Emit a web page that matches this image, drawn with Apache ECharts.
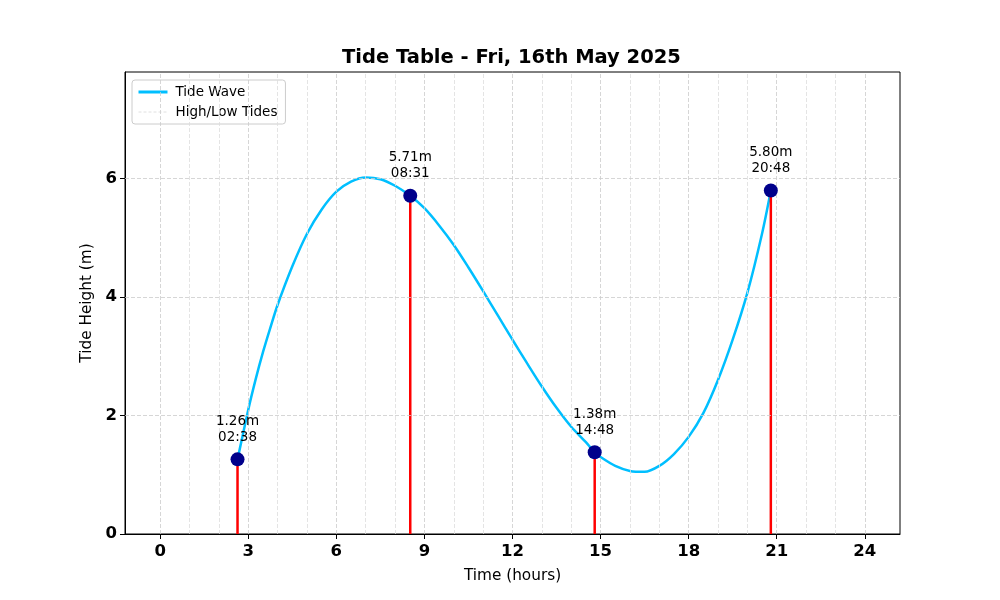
<!DOCTYPE html>
<html>
<head>
<meta charset="utf-8">
<script src="https://cdn.jsdelivr.net/npm/echarts@6/dist/echarts.min.js"></script>
<style>
html,body{margin:0;padding:0;background:#fff;}
#chart{width:1000px;height:600px;}
</style>
</head>
<body>
<div id="chart"></div>
<script>
// Tide curve samples (hours, metres)
var waveHours   = [2.633, 3, 3.25, 3.5, 3.75, 4, 4.5, 5, 5.5, 6, 6.5, 7, 7.5, 8, 8.517, 9, 9.5, 10, 10.5, 11, 11.5, 12, 12.5, 13, 13.5, 14, 14.5, 14.8, 15, 15.5, 16, 16.5, 17, 17.5, 18, 18.5, 19, 19.5, 20, 20.5, 20.8];
var waveHeights = [1.26, 2.10, 2.61, 3.07, 3.48, 3.87, 4.52, 5.07, 5.48, 5.78, 5.95, 6.02, 5.99, 5.88, 5.71, 5.50, 5.21, 4.88, 4.50, 4.10, 3.69, 3.28, 2.88, 2.49, 2.13, 1.81, 1.55, 1.38, 1.30, 1.15, 1.065, 1.05, 1.15, 1.35, 1.64, 2.04, 2.60, 3.28, 4.07, 5.07, 5.80];

// High / low tides
var tideHours   = [2.633, 8.517, 14.8, 20.8];
var tideHeights = [1.26, 5.71, 1.38, 5.80];
var tideTimes   = ['02:38', '08:31', '14:48', '20:48'];

// Axis ticks
var xTicks = [0, 3, 6, 9, 12, 15, 18, 21, 24];
var xGridHours = [0,1,2,3,4,5,6,7,8,9,10,11,12,13,14,15,16,17,18,19,20,21,22,23,24];
var yTicks = [0, 2, 4, 6];
var yGrid = [2, 4, 6];

var FONT = 'DejaVu Sans';

var waveData = waveHours.map(function (h, i) { return [h, waveHeights[i]]; });
var stemData = [];
tideHours.forEach(function (h, i) {
  stemData.push([h, 0]);
  stemData.push([h, tideHeights[i]]);
  stemData.push([h, '-']);
});
var tideData = tideHours.map(function (h, i) { return [h, tideHeights[i], tideTimes[i]]; });

var gridLines = [];
xGridHours.forEach(function (h) {
  var major = (h % 3 === 0);
  gridLines.push({ xAxis: h, lineStyle: { color: major ? '#cccccc' : '#dddddd', type: [4, 2], width: 0.8 } });
});
yGrid.forEach(function (v) {
  gridLines.push({ yAxis: v, lineStyle: { color: '#cccccc', type: [4, 2], width: 0.8 } });
});

var chart = echarts.init(document.getElementById('chart'), null, { renderer: 'canvas' });
chart.setOption({
  animation: false,
  backgroundColor: '#ffffff',
  title: {
    text: 'Tide Table - Fri, 16th May 2025',
    left: 342,
    top: 48,
    padding: 0,
    textStyle: { fontFamily: FONT, fontSize: 19.5, fontWeight: 'bold', color: '#000' }
  },
  legend: {
    orient: 'vertical',
    left: 132,
    top: 80,
    padding: [5, 8, 5, 5],
    itemGap: 6,
    itemWidth: 29,
    itemHeight: 14,
    backgroundColor: '#ffffff',
    borderColor: '#cccccc',
    borderWidth: 1,
    borderRadius: 3,
    itemStyle: { opacity: 0 },
    textStyle: { fontFamily: FONT, fontSize: 13.5, color: '#000', padding: [0, 0, 0, 3] },
    data: [
      { name: 'Tide Wave', itemStyle: { opacity: 0 }, lineStyle: { color: '#00bfff', width: 3 } },
      { name: 'High/Low Tides', itemStyle: { opacity: 0 }, lineStyle: { color: '#d8d8d8', type: [3, 2], width: 0.8 } }
    ]
  },
  grid: {
    left: 125, right: 100, top: 72, bottom: 66,
    show: true, borderColor: '#000', borderWidth: 1, backgroundColor: 'transparent'
  },
  xAxis: {
    type: 'value',
    min: -1.2, max: 25.2,
    name: 'Time (hours)',
    nameLocation: 'middle',
    nameGap: 35,
    nameTextStyle: { fontFamily: FONT, fontSize: 15.3, color: '#000' },
    axisLine: { show: true, onZero: false, lineStyle: { color: '#000', width: 1 } },
    axisTick: { show: true, length: 5, lineStyle: { color: '#000' }, customValues: xTicks },
    axisLabel: { fontFamily: FONT, fontSize: 16.5, fontWeight: 'bold', color: '#000', margin: 9, customValues: xTicks },
    splitLine: { show: false }
  },
  yAxis: {
    type: 'value',
    min: 0, max: 7.8,
    name: 'Tide Height (m)',
    nameLocation: 'middle',
    nameGap: 29,
    nameTextStyle: { fontFamily: FONT, fontSize: 15.3, color: '#000' },
    axisLine: { show: true, onZero: false, lineStyle: { color: '#000', width: 1 } },
    axisTick: { show: true, length: 5, lineStyle: { color: '#000' }, customValues: yTicks },
    axisLabel: { fontFamily: FONT, fontSize: 16.5, fontWeight: 'bold', color: '#000', margin: 8, customValues: yTicks },
    splitLine: { show: false }
  },
  series: [
    {
      name: 'grid',
      type: 'line',
      data: [],
      z: 1,
      silent: true,
      markLine: {
        silent: true,
        symbol: ['none', 'none'],
        label: { show: false },
        animation: false,
        data: gridLines
      }
    },
    {
      name: 'Tide Wave',
      type: 'line',
      data: waveData,
      smooth: 0.3,
      symbol: 'none',
      z: 3,
      lineStyle: { color: '#00bfff', width: 2.5 },
      itemStyle: { color: '#00bfff' }
    },
    {
      name: 'High/Low Tides',
      type: 'line',
      data: stemData,
      connectNulls: false,
      symbol: 'none',
      z: 4,
      lineStyle: { color: '#ff0000', width: 2.5 },
      itemStyle: { color: '#ff0000' }
    },
    {
      name: 'tides',
      type: 'scatter',
      data: tideData,
      symbol: 'circle',
      symbolSize: 14,
      z: 5,
      itemStyle: { color: '#00008b', opacity: 1 },
      label: {
        show: true,
        position: 'top',
        distance: 7,
        fontFamily: FONT,
        fontSize: 13.5,
        lineHeight: 16,
        color: '#000',
        align: 'center',
        formatter: function (p) { return p.value[1].toFixed(2) + 'm\n' + p.value[2]; }
      }
    }
  ]
});
</script>
</body>
</html>
